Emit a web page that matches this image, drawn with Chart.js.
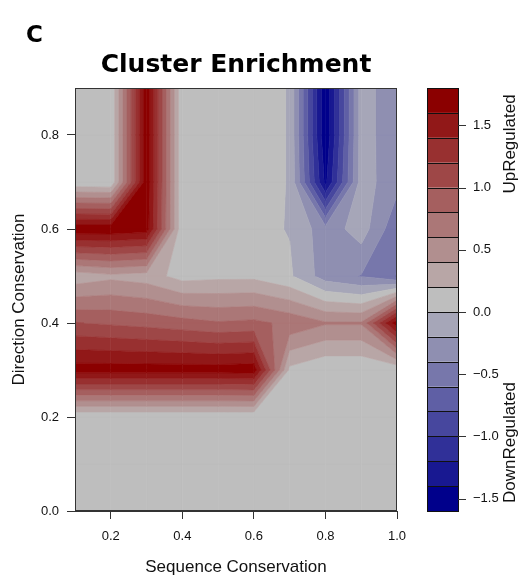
<!DOCTYPE html>
<html>
<head>
<meta charset="utf-8">
<script src="https://cdn.jsdelivr.net/npm/chart.js@4.4.1/dist/chart.umd.min.js"></script>
<style>
  html, body { margin: 0; padding: 0; background: #fff; }
</style>
</head>
<body>
<canvas id="enrichChart" width="528" height="579"></canvas>
<script>
// grid of the surface
const seqCons = [0.1, 0.2, 0.3, 0.4, 0.5, 0.6, 0.7, 0.8, 0.9, 1.0];
const dirCons = [0.0, 0.1, 0.2, 0.3, 0.4, 0.5, 0.6, 0.7, 0.8, 0.9];

// enrichment, one row per direction conservation value (bottom to top)
const dir00 = [0.03, 0.03, 0.03, 0.03, 0.03, 0.03, 0.03, 0.03, 0.03, 0.03];
const dir01 = [0.03, 0.03, 0.03, 0.03, 0.03, 0.03, 0.03, 0.03, 0.03, 0.03];
const dir02 = [0.02, 0.02, 0.02, 0.02, 0.02, 0.02, 0.03, 0.03, 0.03, 0.03];
const dir03 = [1.70, 1.70, 1.70, 1.70, 1.70, 1.72, 0.15, 0.02, 0.02, 0.02];
const dir04 = [1.01, 0.97, 0.93, 0.88, 0.82, 0.85, 0.75, 0.62, 0.62, 1.75];
const dir05 = [0.27, 0.35, 0.30, 0.12, 0.15, 0.15, 0.03, -0.30, -0.41, -0.61];
const dir06 = [1.75, 1.75, 1.70, 0.02, 0.05, 0.05, -0.01, -0.32, -0.10, -0.55];
const dir07 = [0.03, 0.01, 1.75, 0.01, 0.08, 0.08, -0.01, -1.45, -0.10, -0.34];
const dir08 = [0.05, 0.01, 1.75, 0.01, 0.08, 0.08, -0.01, -1.58, -0.10, -0.35];
const dir09 = [0.05, 0.01, 1.75, 0.01, 0.08, 0.08, -0.01, -1.58, -0.10, -0.35];
const enrichment = [dir00, dir01, dir02, dir03, dir04, dir05, dir06, dir07, dir08, dir09];

// contour levels and tick labels
const levels = [-1.6, -1.4, -1.2, -1.0, -0.8, -0.6, -0.4, -0.2, 0.0, 0.2, 0.4, 0.6, 0.8, 1.0, 1.2, 1.4, 1.6, 1.8];
const xTicks = [0.2, 0.4, 0.6, 0.8, 1.0];
const yTicks = [0.0, 0.2, 0.4, 0.6, 0.8];
const keyTicks = [-1.5, -1.0, -0.5, 0.0, 0.5, 1.0, 1.5];

// colorRampPalette(c("darkblue", "gray", "darkred")) style
function bandColor(k, n) {
  const mid = (n - 1) / 2;
  const gray = [190, 190, 190];
  const end = k <= mid ? [0, 0, 139] : [139, 0, 0];
  const t = Math.abs(k - mid) / mid;
  const c = gray.map((g, i) => Math.round(g + (end[i] - g) * t));
  return `rgb(${c[0]},${c[1]},${c[2]})`;
}
const nBands = levels.length - 1;
const bandColors = [];
for (let k = 0; k < nBands; k++) bandColors.push(bandColor(k, nBands));

const sansFont = "'Liberation Sans', Arial, sans-serif";

function fmt(v) {
  const s = Math.abs(v).toFixed(1);
  return v < 0 ? '\u2212' + s : s;
}

// a value sitting exactly on a level would leave a gap between bands
function nudge(v) {
  return levels.some(l => Math.abs(l - v) < 1e-9) ? v + 1e-6 : v;
}

// filled contour, band polygons built per cell like R's filled.contour
const contourPlugin = {
  id: 'contour',
  beforeDatasetsDraw(chart) {
    const {ctx, chartArea, scales: {x, y}} = chart;
    ctx.save();
    ctx.beginPath();
    ctx.rect(chartArea.left, chartArea.top, chartArea.width, chartArea.height);
    ctx.clip();
    for (let j = 0; j < dirCons.length - 1; j++) {
      for (let i = 0; i < seqCons.length - 1; i++) {
        const corners = [
          [seqCons[i], dirCons[j], nudge(enrichment[j][i])],
          [seqCons[i + 1], dirCons[j], nudge(enrichment[j][i + 1])],
          [seqCons[i + 1], dirCons[j + 1], nudge(enrichment[j + 1][i + 1])],
          [seqCons[i], dirCons[j + 1], nudge(enrichment[j + 1][i])]
        ];
        for (let k = 0; k < nBands; k++) {
          const lo = levels[k], hi = levels[k + 1];
          const pts = [];
          for (let e = 0; e < 4; e++) {
            const a = corners[e], b = corners[(e + 1) % 4];
            if (a[2] >= lo && a[2] < hi) pts.push([a[0], a[1]]);
            const cuts = [];
            [lo, hi].forEach(lv => {
              if ((a[2] - lv) * (b[2] - lv) < 0) cuts.push((lv - a[2]) / (b[2] - a[2]));
            });
            cuts.sort((p, q) => p - q).forEach(t => {
              pts.push([a[0] + t * (b[0] - a[0]), a[1] + t * (b[1] - a[1])]);
            });
          }
          if (pts.length < 3) continue;
          ctx.beginPath();
          pts.forEach((p, n) => {
            const px = x.getPixelForValue(p[0]);
            const py = y.getPixelForValue(p[1]);
            if (n === 0) ctx.moveTo(px, py); else ctx.lineTo(px, py);
          });
          ctx.closePath();
          ctx.fillStyle = bandColors[k];
          ctx.strokeStyle = bandColors[k];
          ctx.lineWidth = 0.6;
          ctx.fill();
          ctx.stroke();
        }
      }
    }
    ctx.restore();
  },
  afterDraw(chart) {
    const {ctx, chartArea, scales: {key}} = chart;
    ctx.save();
    // plot frame
    ctx.strokeStyle = '#333';
    ctx.lineWidth = 1;
    ctx.strokeRect(chartArea.left + 0.5, chartArea.top + 0.5, chartArea.width - 1, chartArea.height - 1);

    // colour key
    const keyLeft = chartArea.right + 30;
    const keyWidth = 31;
    for (let k = 0; k < nBands; k++) {
      const top = key.getPixelForValue(levels[k + 1]);
      const bottom = key.getPixelForValue(levels[k]);
      ctx.fillStyle = bandColors[k];
      ctx.fillRect(keyLeft, top, keyWidth, bottom - top);
      ctx.strokeStyle = '#111';
      ctx.strokeRect(keyLeft + 0.5, Math.round(top) + 0.5, keyWidth, Math.round(bottom) - Math.round(top));
    }
    ctx.strokeStyle = '#333';
    keyTicks.forEach(v => {
      const py = Math.round(key.getPixelForValue(v)) + 0.5;
      ctx.beginPath();
      ctx.moveTo(keyLeft + keyWidth, py);
      ctx.lineTo(keyLeft + keyWidth + 8, py);
      ctx.stroke();
    });

    // key side labels
    ctx.fillStyle = '#111';
    ctx.font = `17px ${sansFont}`;
    ctx.textAlign = 'center';
    ctx.textBaseline = 'middle';
    [['UpRegulated', 1.35], ['DownRegulated', -1.05]].forEach(([txt, v]) => {
      ctx.save();
      ctx.translate(510, key.getPixelForValue(v));
      ctx.rotate(-Math.PI / 2);
      ctx.fillText(txt, 0, 0);
      ctx.restore();
    });

    // panel letter
    ctx.fillStyle = '#000';
    ctx.font = "bold 23px 'DejaVu Sans', sans-serif";
    ctx.textAlign = 'left';
    ctx.textBaseline = 'alphabetic';
    ctx.fillText('C', 26, 42);
    ctx.restore();
  }
};

new Chart(document.getElementById('enrichChart'), {
  type: 'scatter',
  data: { datasets: [] },
  options: {
    responsive: false,
    animation: false,
    layout: { padding: 0 },
    plugins: {
      legend: { display: false },
      tooltip: { enabled: false },
      title: {
        display: true,
        text: 'Cluster Enrichment',
        fullSize: false,
        color: '#000',
        font: { family: "'DejaVu Sans', sans-serif", size: 25, weight: 'bold' },
        padding: { top: 50, bottom: 8 }
      }
    },
    scales: {
      x: {
        type: 'linear',
        min: 0.1,
        max: 1.0,
        afterBuildTicks: axis => { axis.ticks = xTicks.map(v => ({ value: v })); },
        afterFit: axis => { axis.height = 68; },
        ticks: {
          autoSkip: false, maxRotation: 0, padding: 10, color: '#111',
          font: { family: sansFont, size: 13 },
          callback: v => fmt(v)
        },
        grid: { drawOnChartArea: false, drawTicks: true, tickLength: 8, color: '#333' },
        border: { display: true, color: '#333' },
        title: {
          display: true, text: 'Sequence Conservation', color: '#111',
          font: { family: sansFont, size: 17 }, padding: { top: 0, bottom: 1 }
        }
      },
      y: {
        type: 'linear',
        min: 0,
        max: 0.9,
        afterBuildTicks: axis => { axis.ticks = yTicks.map(v => ({ value: v })); },
        afterFit: axis => { axis.width = 75; },
        ticks: {
          autoSkip: false, padding: 8, color: '#111',
          font: { family: sansFont, size: 13 },
          callback: v => fmt(v)
        },
        grid: { drawOnChartArea: false, drawTicks: true, tickLength: 8, color: '#333' },
        border: { display: true, color: '#333' },
        title: {
          display: true, text: 'Direction Conservation', color: '#111',
          font: { family: sansFont, size: 17 }, padding: { top: 9, bottom: 0 }
        }
      },
      key: {
        type: 'linear',
        position: 'right',
        min: -1.6,
        max: 1.8,
        afterBuildTicks: axis => { axis.ticks = keyTicks.map(v => ({ value: v })); },
        afterFit: axis => { axis.width = 131; },
        ticks: {
          autoSkip: false, padding: 7, color: '#111',
          font: { family: sansFont, size: 13 },
          callback: v => fmt(v)
        },
        grid: { drawOnChartArea: false, drawTicks: true, tickLength: 69, color: 'rgba(0,0,0,0)' },
        border: { display: false }
      }
    }
  },
  plugins: [contourPlugin]
});
</script>
</body>
</html>
